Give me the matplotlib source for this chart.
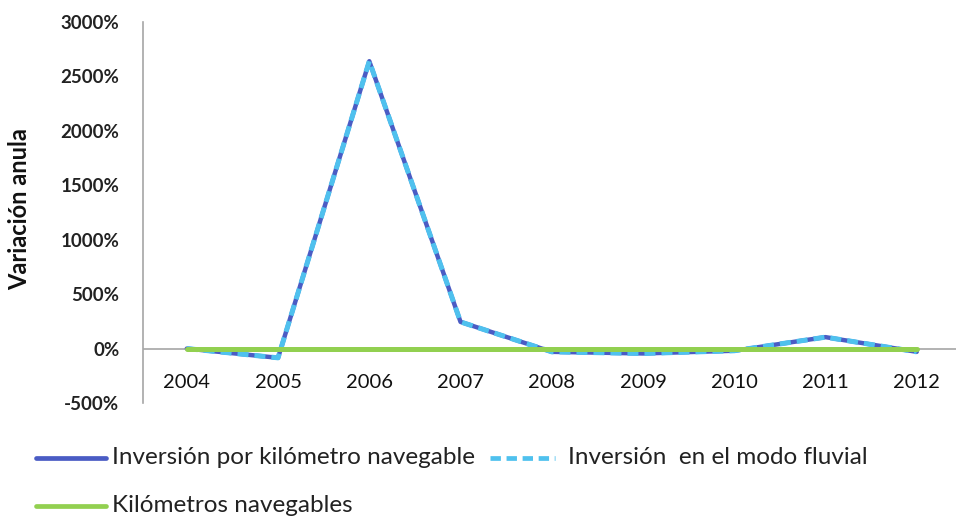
import matplotlib
matplotlib.use("Agg")
import matplotlib.pyplot as plt
from matplotlib.lines import Line2D

years = ["2004", "2005", "2006", "2007", "2008", "2009", "2010", "2011", "2012"]
inv_km = [0, -85, 2640, 245, -30, -45, -20, 105, -30]
inv_fluvial = [0, -85, 2640, 245, -30, -45, -20, 105, -30]
km_naveg = [0, 0, 0, 0, 0, 0, 0, 0, 0]
yticks = [-500, 0, 500, 1000, 1500, 2000, 2500, 3000]

plt.rcParams['font.family'] = ['Lato', 'DejaVu Sans']
W, H = 956, 518
fig = plt.figure(figsize=(W / 100, H / 100), dpi=100)
ax = fig.add_axes([143 / W, 1 - 403 / H, (956 - 143) / W, (403 - 22) / H])

x = list(range(len(years)))
c_dark = '#4a5cc4'
c_light = '#4fc1ee'
c_green = '#92d050'
ax.plot(x, inv_km, color=c_dark, lw=3.2, solid_capstyle='round', zorder=3)
ax.plot(x, inv_fluvial, color=c_light, lw=3.6, dashes=(2.2, 1.2), zorder=4)
ax.plot(x, km_naveg, color=c_green, lw=3.6, solid_capstyle='round', zorder=5)

ax.set_xlim(-0.48, 8.43)
ax.set_ylim(-500, 3000)
ax.axhline(0, color='#a6a6a6', lw=1.2, zorder=1)
for s in ['top', 'right', 'bottom']:
    ax.spines[s].set_visible(False)
ax.spines['left'].set_color('#a6a6a6')
ax.spines['left'].set_linewidth(1.2)
ax.set_xticks([])
ax.set_yticks(yticks)
ax.set_yticklabels([f"{v}%" for v in yticks], fontsize=13.5, fontweight='bold', color='#222222')
ax.tick_params(axis='y', length=0, pad=17)
for i, yr in enumerate(years):
    ax.text(i, -310, yr, ha='center', va='center', fontsize=14.5, color='#111111')
ax.set_ylabel("Variación anula", fontsize=17, fontweight='bold', color='#111111')
ax.yaxis.set_label_coords(-0.137, 0.51)

def leg(x0, x1, y, color, text, tx, dashed=False):
    yy = 1 - y / H
    if dashed:
        fig.add_artist(Line2D([x0 / W, x1 / W], [yy, yy], color=color, lw=3.4, dashes=(2.2, 1.2)))
    else:
        fig.add_artist(Line2D([x0 / W, x1 / W], [yy, yy], color=color, lw=3.4,
                              solid_capstyle='round'))
    fig.text(tx / W, yy, text, ha='left', va='center', fontsize=17.5, color='#222222')

leg(36, 106, 458, c_dark, "Inversión por kilómetro navegable", 112)
leg(490, 555, 458, c_light, "Inversión  en el modo fluvial", 568, dashed=True)
leg(36, 106, 506, c_green, "Kilómetros navegables", 112)

fig.savefig("out.png", dpi=100)
